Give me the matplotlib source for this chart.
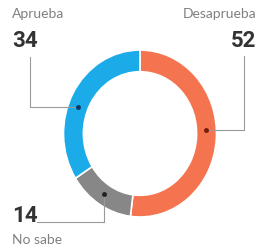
import numpy as np
import matplotlib.pyplot as plt

# -------------------------------
# Data
# -------------------------------
labels = ["Desaprueba", "No sabe", "Aprueba"]
values = [52, 14, 34]
colors = ["#F4744F", "#878787", "#1AABE8"]

W, H = 271, 249
fig = plt.figure(figsize=(W / 100, H / 100), dpi=100)

# donut axes (slightly taller than wide, like the reference)
cx, cy, rx, ry = 140, 133.5, 76.5, 83.5
ax = fig.add_axes([(cx - rx) / W, (H - cy - ry) / H, 2 * rx / W, 2 * ry / H])
ax.pie(values, colors=colors, startangle=90, counterclock=False,
       wedgeprops=dict(width=0.26, edgecolor="white", linewidth=1.2))
ax.set_aspect("auto")
ax.set_xlim(-1, 1)
ax.set_ylim(-1, 1)
ax.axis("off")

# overlay in pixel coordinates for leader lines and texts
ov = fig.add_axes([0, 0, 1, 1])
ov.set_xlim(0, W)
ov.set_ylim(H, 0)
ov.axis("off")

def dot_pos(angle_deg, r=0.87):
    a = np.deg2rad(angle_deg)
    disp = ax.transData.transform((r * np.cos(a), r * np.sin(a)))
    return ov.transData.inverted().transform(disp)

line_kw = dict(color="#9a9a9a", lw=0.8)
num_kw = dict(fontsize=16, fontweight="bold", color="#333333", family="Roboto")
lab_kw = dict(fontsize=10, color="#808080", family="Lato")

# Desaprueba
x, y = dot_pos(3)
ov.plot([x, 244, 244], [y, y, 56], **line_kw)
ov.plot(x, y, "o", ms=2.5, color="#7a1a0a")
ov.text(256, 41, str(values[0]), ha="right", va="center", **num_kw)
ov.text(256, 14, labels[0], ha="right", va="center", **lab_kw)

# Aprueba
x, y = dot_pos(159)
ov.plot([x, 30, 30], [y, y, 57], **line_kw)
ov.plot(x, y, "o", ms=2.5, color="#0a3a6a")
ov.text(12, 41, str(values[2]), ha="left", va="center", **num_kw)
ov.text(12, 14, labels[2], ha="left", va="center", **lab_kw)

# No sabe
x, y = dot_pos(237)
ov.plot([x, x, 37], [y, 222, 222], **line_kw)
ov.plot(x, y, "o", ms=2.5, color="#222222")
ov.text(12, 216, str(values[1]), ha="left", va="center", **num_kw)
ov.text(12, 240, labels[1], ha="left", va="center", **lab_kw)

fig.savefig("out.png", dpi=100, facecolor="white")
